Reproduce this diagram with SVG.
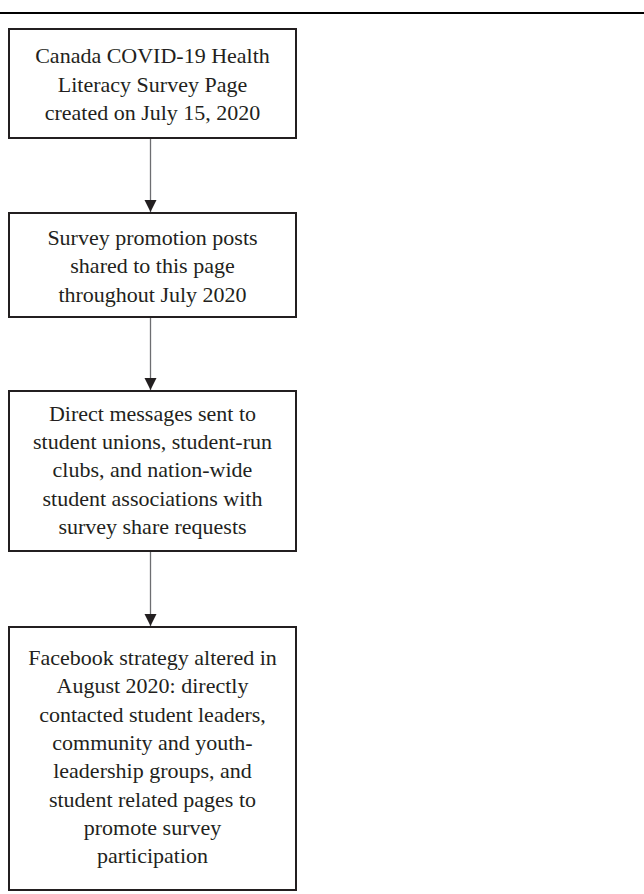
<svg xmlns="http://www.w3.org/2000/svg" width="644" height="894" viewBox="0 0 644 894">
<style>
.box{fill:#fff;stroke:#231f20;stroke-width:2}
.t{font-family:"Liberation Serif","Times New Roman",serif;font-size:22px;fill:#231f20;text-anchor:middle}
.c{stroke:#6d6e71;stroke-width:1.3;fill:none}
</style>
<defs>
<marker id="ah" markerUnits="userSpaceOnUse" markerWidth="12" markerHeight="13" refX="12" refY="6" orient="auto">
<path d="M0,0 L12,6 L0,12 Z" fill="#231f20"/>
</marker>
</defs>
<rect width="644" height="894" fill="#fff"/>
<line x1="0" y1="13" x2="644" y2="13" stroke="#000" stroke-width="2.2"/>
<g id="connectors">
<line class="c" x1="150.5" y1="138" x2="150.5" y2="212" marker-end="url(#ah)"/>
<line class="c" x1="150.5" y1="317" x2="150.5" y2="390" marker-end="url(#ah)"/>
<line class="c" x1="150.5" y1="551" x2="150.5" y2="626" marker-end="url(#ah)"/>
</g>
<g id="n1">
<rect class="box" x="9" y="29" width="287" height="109"/>
<text class="t" x="152.5" y="63">Canada COVID-19 Health</text>
<text class="t" x="152.5" y="92">Literacy Survey Page</text>
<text class="t" x="152.5" y="120">created on July 15, 2020</text>
</g>
<g id="n2">
<rect class="box" x="9" y="213" width="287" height="104"/>
<text class="t" x="152.5" y="245">Survey promotion posts</text>
<text class="t" x="152.5" y="273">shared to this page</text>
<text class="t" x="152.5" y="302">throughout July 2020</text>
</g>
<g id="n3">
<rect class="box" x="9" y="391" width="287" height="160"/>
<text class="t" x="152.5" y="421">Direct messages sent to</text>
<text class="t" x="152.5" y="449">student unions, student-run</text>
<text class="t" x="152.5" y="477">clubs, and nation-wide</text>
<text class="t" x="152.5" y="506">student associations with</text>
<text class="t" x="152.5" y="534">survey share requests</text>
</g>
<g id="n4">
<rect class="box" x="9" y="627" width="287" height="263"/>
<text class="t" x="152.5" y="665">Facebook strategy altered in</text>
<text class="t" x="152.5" y="693">August 2020: directly</text>
<text class="t" x="152.5" y="722">contacted student leaders,</text>
<text class="t" x="152.5" y="750">community and youth-</text>
<text class="t" x="152.5" y="778">leadership groups, and</text>
<text class="t" x="152.5" y="807">student related pages to</text>
<text class="t" x="152.5" y="835">promote survey</text>
<text class="t" x="152.5" y="863">participation</text>
</g>
</svg>
